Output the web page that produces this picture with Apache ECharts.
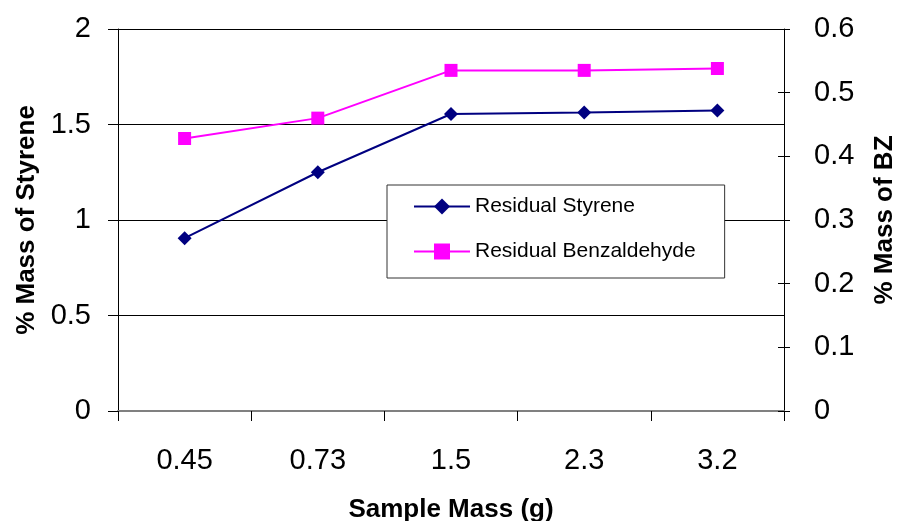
<!DOCTYPE html>
<html>
<head>
<meta charset="utf-8">
<script src="https://cdn.jsdelivr.net/npm/echarts@6/dist/echarts.min.js"></script>
<style>
  html, body { margin: 0; padding: 0; background: #fff; }
  #chart { width: 898px; height: 521px; }
</style>
</head>
<body>
<div id="chart"></div>
<script>
"use strict";

var sampleMass = ["0.45", "0.73", "1.5", "2.3", "3.2"];
var residualStyrene = [0.905, 1.25, 1.555, 1.563, 1.573];
var residualBenzaldehyde = [0.428, 0.46, 0.535, 0.535, 0.538];

var FONT = "'Liberation Sans', Arial, sans-serif";

var chart = echarts.init(document.getElementById("chart"));

var option = {
    backgroundColor: "#fff",
    animation: false,
    grid: {
        left: 118,
        right: 114,
        top: 29,
        bottom: 110,
        outerBoundsMode: "none"
    },
    legend: {
        orient: "vertical",
        left: 387,
        top: 185,
        padding: [11, 29, 16, 26],
        itemWidth: 56,
        itemHeight: 20,
        itemGap: 24,
        backgroundColor: "#fff",
        borderColor: "#333",
        borderWidth: 1,
        textStyle: { fontFamily: FONT, fontSize: 21, color: "#000" },
        data: ["Residual Styrene", "Residual Benzaldehyde"]
    },
    xAxis: [{
        type: "category",
        data: sampleMass,
        boundaryGap: true,
        name: "Sample Mass (g)",
        nameLocation: "middle",
        nameGap: 86,
        nameTextStyle: { fontFamily: FONT, fontSize: 26, fontWeight: "bold", color: "#000", verticalAlign: "top" },
        axisLine: { lineStyle: { color: "#000", width: 1 } },
        axisTick: { show: true, length: 10, alignWithLabel: false, lineStyle: { color: "#000" } },
        axisLabel: { fontFamily: FONT, fontSize: 29, color: "#000", margin: 35 },
        splitLine: { show: false }
    }, {
        // plot area top border
        type: "category",
        position: "top",
        data: sampleMass,
        axisLine: { lineStyle: { color: "#808080", width: 2 } },
        axisTick: { show: false },
        axisLabel: { show: false },
        splitLine: { show: false }
    }],
    yAxis: [{
        type: "value",
        min: 0,
        max: 2,
        interval: 0.5,
        position: "left",
        name: "% Mass of Styrene",
        nameLocation: "middle",
        nameRotate: 90,
        nameGap: 77,
        nameTextStyle: { fontFamily: FONT, fontSize: 26, fontWeight: "bold", color: "#000" },
        axisLine: { show: true, lineStyle: { color: "#000", width: 1 } },
        axisTick: { show: true, length: 10, lineStyle: { color: "#000" } },
        axisLabel: { fontFamily: FONT, fontSize: 29, color: "#000", margin: 27 },
        splitLine: { show: true, lineStyle: { color: "#000", width: 1 } }
    }, {
        type: "value",
        min: 0,
        max: 0.6,
        interval: 0.1,
        position: "right",
        name: "% Mass of BZ",
        nameLocation: "middle",
        nameRotate: 90,
        nameGap: 88,
        nameTextStyle: { fontFamily: FONT, fontSize: 26, fontWeight: "bold", color: "#000" },
        axisLine: { show: true, lineStyle: { color: "#000", width: 1 } },
        axisTick: { show: true, length: 6, lineStyle: { color: "#000" } },
        axisLabel: { fontFamily: FONT, fontSize: 29, color: "#000", margin: 30 },
        splitLine: { show: false }
    }, {
        // inner half of the crossing ticks on the right axis
        type: "value",
        min: 0,
        max: 0.6,
        interval: 0.1,
        position: "right",
        axisLine: { show: false },
        axisTick: { show: true, inside: true, length: 6, lineStyle: { color: "#000" } },
        axisLabel: { show: false },
        splitLine: { show: false }
    }],
    series: [{
        name: "Residual Styrene",
        type: "line",
        yAxisIndex: 0,
        data: residualStyrene,
        symbol: "diamond",
        symbolSize: 14,
        lineStyle: { color: "#000080", width: 2 },
        itemStyle: { color: "#000080" }
    }, {
        name: "Residual Benzaldehyde",
        type: "line",
        yAxisIndex: 1,
        data: residualBenzaldehyde,
        symbol: "rect",
        symbolSize: 13,
        lineStyle: { color: "#FF00FF", width: 2 },
        itemStyle: { color: "#FF00FF" }
    }]
};

chart.setOption(option);
</script>
</body>
</html>
